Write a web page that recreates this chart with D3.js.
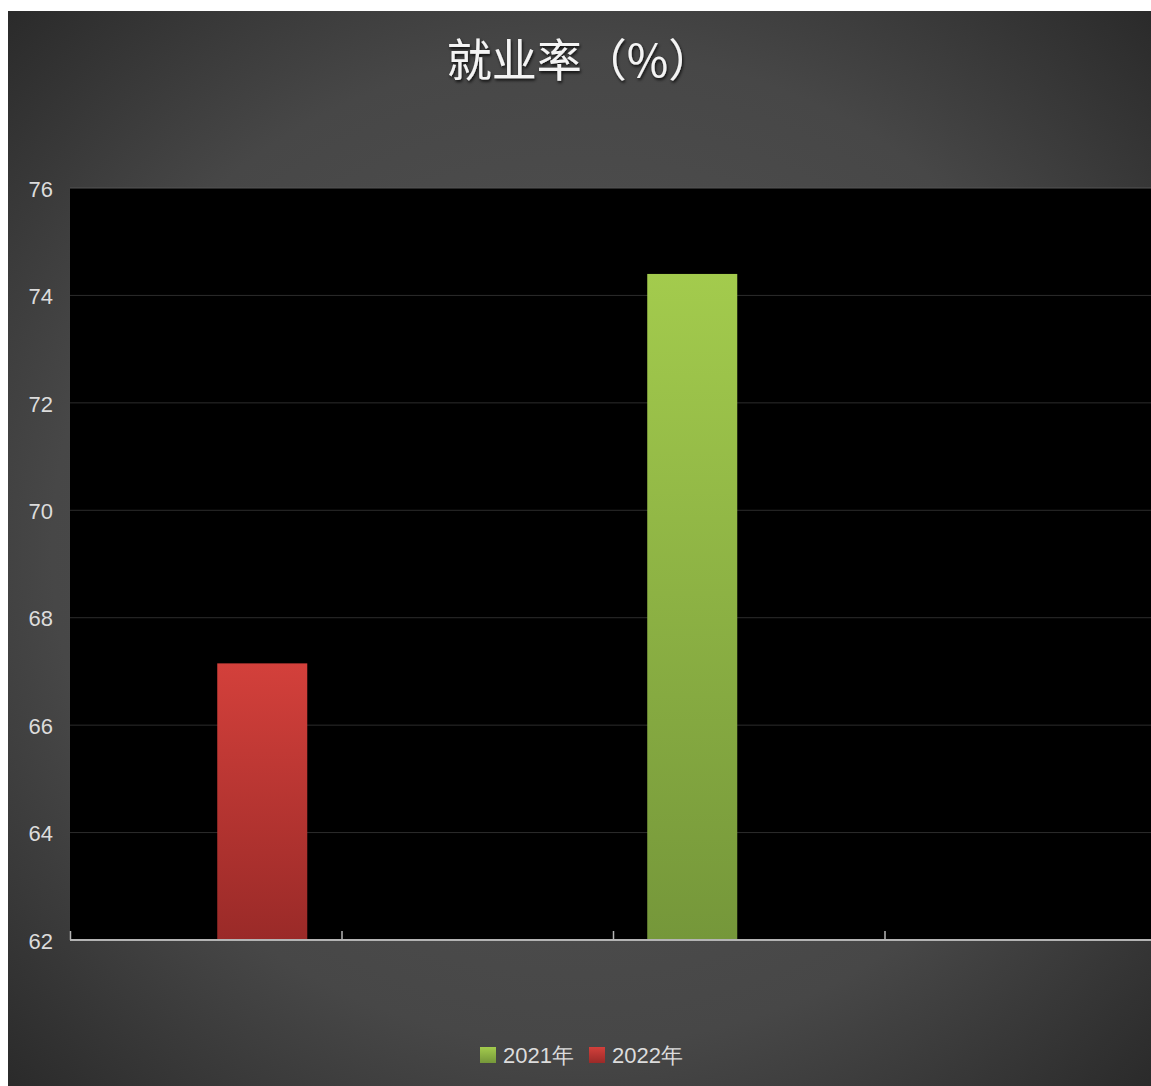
<!DOCTYPE html>
<html>
<head>
<meta charset="utf-8">
<script src="https://cdn.jsdelivr.net/npm/d3@7"></script>
<style>
  html, body { margin: 0; padding: 0; background: #fff; overflow: hidden; }
  svg { display: block; }
</style>
</head>
<body>
<svg id="chart"></svg>
<script>
// chart data
const title = '就业率（%）';
const categories = ['c1', 'c2', 'c3', 'c4'];
const seriesNames = ['2021年', '2022年'];
const values2021 = [null, null, 74.4, null];
const values2022 = [67.15, null, null, null];
const yTicks = [62, 64, 66, 68, 70, 72, 74, 76];

const width = 1151;
const height = 1086;
const frame = { x: 8, y: 11 };
const plot = { left: 70, top: 188, right: 1156, bottom: 940 };

const svg = d3.select('#chart')
    .attr('width', width)
    .attr('height', height);

const defs = svg.append('defs');

// background gradient, lighter in the middle
const bg = defs.append('radialGradient')
    .attr('id', 'bg')
    .attr('cx', '50%').attr('cy', '50%').attr('r', '71%');
bg.append('stop').attr('offset', '0%').attr('stop-color', '#555');
bg.append('stop').attr('offset', '65%').attr('stop-color', '#474747');
bg.append('stop').attr('offset', '100%').attr('stop-color', '#2a2a2a');

const fills = {
    '2021年': ['#a3cb4d', '#75973a'],
    '2022年': ['#d3403b', '#9a2a28'],
};
seriesNames.forEach((s, i) => {
    const g = defs.append('linearGradient')
        .attr('id', 'bar' + i)
        .attr('x1', 0).attr('y1', 0).attr('x2', 0).attr('y2', 1);
    g.append('stop').attr('offset', '0%').attr('stop-color', fills[s][0]);
    g.append('stop').attr('offset', '100%').attr('stop-color', fills[s][1]);
});

const shadow = defs.append('filter').attr('id', 'shadow')
    .attr('x', '-10%').attr('y', '-10%').attr('width', '130%').attr('height', '140%');
shadow.append('feDropShadow')
    .attr('dx', 1).attr('dy', 2).attr('stdDeviation', 1.5)
    .attr('flood-color', '#000').attr('flood-opacity', 0.8);

svg.append('rect')
    .attr('x', frame.x).attr('y', frame.y)
    .attr('width', width - frame.x).attr('height', height - frame.y)
    .attr('fill', 'url(#bg)');

// scales
const x0 = d3.scaleBand()
    .domain(categories)
    .range([plot.left, plot.right]);
const x1 = d3.scaleBand()
    .domain(seriesNames)
    .range([0, x0.bandwidth()])
    .paddingInner(0.2035)
    .paddingOuter(0.303);
const y = d3.scaleLinear()
    .domain([62, 76])
    .range([plot.bottom, plot.top]);

// plot area
svg.append('rect')
    .attr('x', plot.left).attr('y', plot.top)
    .attr('width', plot.right - plot.left).attr('height', plot.bottom - plot.top)
    .attr('fill', '#000');

// grid lines
svg.append('g')
    .selectAll('line')
    .data(yTicks.slice(1))
    .join('line')
    .attr('x1', plot.left).attr('x2', plot.right)
    .attr('y1', d => y(d)).attr('y2', d => y(d))
    .attr('stroke', d => d === 76 ? '#555' : '#2c2c2c')
    .attr('stroke-width', 1);

// y labels
svg.append('g')
    .selectAll('text')
    .data(yTicks)
    .join('text')
    .attr('x', 53)
    .attr('y', d => y(d) + 1)
    .attr('dy', '0.35em')
    .attr('text-anchor', 'end')
    .attr('fill', '#dcdcdc')
    .attr('font-family', 'Liberation Sans, Arial, sans-serif')
    .attr('font-size', 22)
    .text(d => d);

// bars
const barData = [];
categories.forEach((c, i) => {
    [values2021, values2022].forEach((vals, s) => {
        if (vals[i] !== null) {
            barData.push({ cat: c, series: seriesNames[s], idx: s, value: vals[i] });
        }
    });
});
svg.append('g')
    .selectAll('rect')
    .data(barData)
    .join('rect')
    .attr('x', d => x0(d.cat) + x1(d.series))
    .attr('y', d => y(d.value))
    .attr('width', x1.bandwidth())
    .attr('height', d => y(62) - y(d.value))
    .attr('fill', d => `url(#bar${ d.idx })`);

// x axis baseline and ticks at band edges
svg.append('line')
    .attr('x1', plot.left).attr('x2', plot.right)
    .attr('y1', plot.bottom).attr('y2', plot.bottom)
    .attr('stroke', '#b4b4b4').attr('stroke-width', 2);
svg.append('g')
    .selectAll('line')
    .data(categories)
    .join('line')
    .attr('x1', d => x0(d) + 0.5).attr('x2', d => x0(d) + 0.5)
    .attr('y1', plot.bottom - 9).attr('y2', plot.bottom)
    .attr('stroke', '#b4b4b4').attr('stroke-width', 1.5);

// title
svg.append('text')
    .attr('x', 580)
    .attr('y', 77)
    .attr('text-anchor', 'middle')
    .attr('fill', '#f4f4f4')
    .attr('font-family', 'Noto Sans CJK SC, sans-serif')
    .attr('font-size', 45)
    .attr('filter', 'url(#shadow)')
    .text(title);

// legend
const legend = svg.append('g')
    .attr('font-family', 'Liberation Sans, Arial, sans-serif')
    .attr('font-size', 22)
    .attr('fill', '#dcdcdc');
const legendX = [480, 589];
seriesNames.forEach((s, i) => {
    legend.append('rect')
        .attr('x', legendX[i]).attr('y', 1047)
        .attr('width', 16).attr('height', 16)
        .attr('fill', `url(#bar${ i })`);
    legend.append('text')
        .attr('x', legendX[i] + 23)
        .attr('y', 1055)
        .attr('dy', '0.35em')
        .text(s);
});
</script>
</body>
</html>
